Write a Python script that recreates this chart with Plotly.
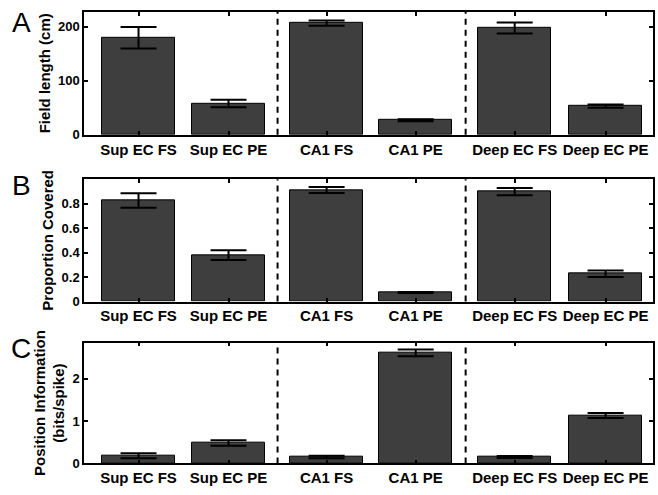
import plotly.graph_objects as go

categories = ["Sup EC FS", "Sup EC PE", "CA1 FS", "CA1 PE", "Deep EC FS", "Deep EC PE"]
positions = [1, 2, 3.09, 4.08, 5.18, 6.19]

field_length = [180, 58, 207, 27, 198, 53]
field_length_err = [20, 7, 5, 2, 10, 3]

prop_covered = [0.827, 0.38, 0.913, 0.074, 0.90, 0.227]
prop_covered_err = [0.06, 0.04, 0.025, 0.005, 0.03, 0.027]

pos_info = [0.18, 0.48, 0.15, 2.61, 0.15, 1.13]
pos_info_err = [0.06, 0.065, 0.03, 0.08, 0.025, 0.06]

dividers = [2.545, 4.635]

panels = [
    (field_length, field_length_err, "Field length (cm)", [0, 228], [0, 100, 200], ["0", "100", "200"], "A"),
    (prop_covered, prop_covered_err, "Proportion Covered", [0, 1.0], [0, 0.2, 0.4, 0.6, 0.8], ["0", "0.2", "0.4", "0.6", "0.8"], "B"),
    (pos_info, pos_info_err, "Position Information<br>(bits/spike)", [0, 2.85], [0, 1, 2], ["0", "1", "2"], "C"),
]

W, H = 658, 495
xdom = [84 / W, 653 / W]
ydoms = [
    [1 - 137 / H, 1 - 12 / H],
    [1 - 306.5 / H, 1 - 182.3 / H],
    [1 - 471 / H, 1 - 348.3 / H],
]
letter_y = [23, 189, 354]

fig = go.Figure()
font_family = "Liberation Sans, Arial, sans-serif"
shapes = []
annotations = []

for i, (vals, errs, ytitle, yr, tv, tt, letter) in enumerate(panels):
    n = "" if i == 0 else str(i + 1)
    fig.add_trace(go.Bar(
        x=positions, y=vals,
        error_y=dict(type="data", array=errs, visible=True, color="black", thickness=2, width=18),
        marker=dict(color="#3e3e3e", line=dict(color="black", width=1)),
        width=0.81,
        xaxis="x" + n, yaxis="y" + n,
        showlegend=False,
    ))
    fig.update_layout(**{
        "xaxis" + n: dict(
            domain=xdom, anchor="y" + n, range=[0.394, 6.717],
            tickvals=positions, ticktext=categories,
            ticks="inside", ticklen=4, tickwidth=1.5, tickcolor="black",
            showline=True, linecolor="black", linewidth=1.5, mirror="ticks",
            showgrid=False, zeroline=False,
            tickfont=dict(family=font_family, size=15, color="black", weight="bold"),
        ),
        "yaxis" + n: dict(
            domain=ydoms[i], anchor="x" + n, range=yr,
            tickvals=tv, ticktext=tt,
            ticks="inside", ticklen=4, tickwidth=1.5, tickcolor="black",
            showline=True, linecolor="black", linewidth=1.5, mirror="ticks",
            showgrid=False, zeroline=False,
            tickfont=dict(family=font_family, size=13, color="black", weight="bold"),
            title=dict(text=ytitle, standoff=4,
                       font=dict(family=font_family, size=15, color="black", weight="bold")),
        ),
    })
    for d in dividers:
        shapes.append(dict(type="line", xref="x" + n, yref="y" + n + " domain",
                           x0=d, x1=d, y0=0, y1=1,
                           line=dict(color="black", width=2, dash="6px,5px")))
    annotations.append(dict(text=letter, xref="paper", yref="paper",
                            x=21 / W, y=1 - letter_y[i] / H, showarrow=False,
                            xanchor="center", yanchor="middle",
                            font=dict(family=font_family, size=28, color="black")))

fig.update_layout(
    width=W, height=H,
    margin=dict(l=0, r=0, t=0, b=0),
    paper_bgcolor="white", plot_bgcolor="white",
    shapes=shapes, annotations=annotations,
    bargap=0,
)

fig.write_html("out.html")
